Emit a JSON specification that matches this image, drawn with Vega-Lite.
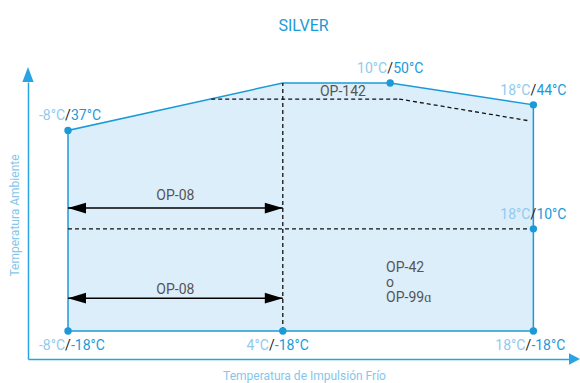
{
  "$schema": "https://vega.github.io/schema/vega-lite/v6.json",
  "width": 541,
  "height": 277,
  "autosize": {"type": "none"},
  "padding": {"left": 28, "top": 82, "right": 11, "bottom": 24},
  "background": "white",
  "title": {"text": "SILVER", "color": "#1b9ad8", "fontSize": 16, "fontWeight": "normal", "font": "Roboto", "anchor": "middle", "offset": 28, "dx": 5},
  "config": {"view": {"stroke": null}, "font": "Roboto"},
  "datasets": {
    "top": [
      {"x": -8, "y": 37}, {"x": 4, "y": 50}, {"x": 10, "y": 50}, {"x": 18, "y": 44}
    ],
    "outline": [
      {"o": 1, "x": -8, "y": -18}, {"o": 2, "x": -8, "y": 37}, {"o": 3, "x": 4, "y": 50},
      {"o": 4, "x": 10, "y": 50}, {"o": 5, "x": 18, "y": 44}, {"o": 6, "x": 18, "y": -18},
      {"o": 7, "x": -8, "y": -18}
    ],
    "dash": [
      {"x": 4, "y": -18, "x2": 4, "y2": 50},
      {"x": -8, "y": 10, "x2": 18, "y2": 10},
      {"x": 0, "y": 45.6, "x2": 10.5, "y2": 45.6},
      {"x": 10.5, "y": 45.6, "x2": 17.8, "y2": 39.6}
    ],
    "arrows": [
      {"x": -8, "x2": 4, "y": 15.7},
      {"x": -8, "x2": 4, "y": -9}
    ],
    "axarrow": [
      {"x": -10.235, "y": 50.27, "k": "up"},
      {"x": 19.99, "y": -25.68, "k": "right"}
    ],
    "pts": [
      {"x": -8, "y": 37, "a": "-8°C", "b": "37°C", "g": "t"},
      {"x": 10, "y": 50, "a": "10°C", "b": "50°C", "g": "t"},
      {"x": 18, "y": 44, "a": "18°C", "b": "44°C", "g": "t"},
      {"x": 18, "y": 10, "a": "18°C", "b": "10°C", "g": "t"},
      {"x": -8, "y": -18, "a": "-8°C", "b": "-18°C", "g": "b0"},
      {"x": 4, "y": -18, "a": "4°C", "b": "-18°C", "g": "b1"},
      {"x": 18, "y": -18, "a": "18°C", "b": "-18°C", "g": "b2"}
    ],
    "notes": [
      {"x": -2, "y": 17.9, "t": "OP-08"},
      {"x": -2, "y": -7.85, "t": "OP-08"},
      {"x": 7.36, "y": 46.4, "t": "OP-142"}
    ],
    "notes2": [
      {"x": 9.77, "y": -1.8, "t": "OP-42\no\nOP-99ɑ"}
    ]
  },
  "encoding": {
    "x": {"field": "x", "type": "quantitative",
      "scale": {"domain": [-10.235, 19.99], "nice": false, "zero": false},
      "axis": {"title": "Temperatura de Impulsión Frío", "labels": false, "ticks": false, "grid": false,
        "domainColor": "#2aa3e2", "domainWidth": 1.5, "titleColor": "#86c6ec", "titleFont": "Roboto",
        "titleFontSize": 12, "titleFontWeight": "normal", "titlePadding": 11, "titleX": 276}},
    "y": {"field": "y", "type": "quantitative",
      "scale": {"domain": [-25.68, 50.27], "nice": false, "zero": false},
      "axis": {"title": "Temperatura Ambiente", "labels": false, "ticks": false, "grid": false,
        "domainColor": "#2aa3e2", "domainWidth": 1.5, "titleColor": "#86c6ec", "titleFont": "Roboto",
        "titleFontSize": 12, "titleFontWeight": "normal", "titlePadding": 7, "titleY": 133}}
  },
  "layer": [
    {"data": {"name": "top"}, "mark": {"type": "area", "color": "#ddeefb", "opacity": 1},
     "encoding": {"y2": {"datum": -18}}},
    {"data": {"name": "outline"}, "mark": {"type": "line", "color": "#1b9ad8", "strokeWidth": 1.5},
     "encoding": {"order": {"field": "o", "type": "quantitative"}}},
    {"data": {"name": "dash"}, "mark": {"type": "rule", "color": "#111111", "strokeDash": [4, 3], "strokeWidth": 1.3},
     "encoding": {"x2": {"field": "x2"}, "y2": {"field": "y2"}}},
    {"data": {"name": "arrows"}, "mark": {"type": "rule", "color": "#000000", "strokeWidth": 1.5},
     "encoding": {"x2": {"field": "x2"}}},
    {"data": {"name": "arrows"}, "mark": {"type": "point", "shape": "M0,0L2,-0.6L2,0.6Z", "filled": true, "color": "#000000", "size": 324, "opacity": 1},
     "encoding": {}},
    {"data": {"name": "arrows"}, "mark": {"type": "point", "shape": "M0,0L-2,-0.6L-2,0.6Z", "filled": true, "color": "#000000", "size": 324, "opacity": 1},
     "encoding": {"x": {"field": "x2", "type": "quantitative"}}},
    {"data": {"name": "axarrow"}, "mark": {"type": "point", "filled": true, "color": "#2aa3e2", "size": 225, "opacity": 1},
     "encoding": {"shape": {"field": "k", "type": "nominal",
       "scale": {"domain": ["up", "right"], "range": ["M-0.75,0L0.75,0L0,-2Z", "M0,-0.77L1.47,0L0,0.77Z"]}, "legend": null}}},
    {"data": {"name": "pts"}, "mark": {"type": "point", "filled": true, "color": "#1b9ad8", "size": 55, "opacity": 1}},

    {"data": {"name": "pts"}, "transform": [{"filter": "datum.g == 't'"}],
     "mark": {"type": "text", "align": "right", "baseline": "alphabetic", "dx": -3, "dy": -10, "fontSize": 14, "color": "#8ecbef"},
     "encoding": {"text": {"field": "a"}}},
    {"data": {"name": "pts"}, "transform": [{"filter": "datum.g == 't'"}],
     "mark": {"type": "text", "align": "center", "baseline": "alphabetic", "dx": 0, "dy": -10, "fontSize": 14, "color": "#222222", "text": "/"},
     "encoding": {}},
    {"data": {"name": "pts"}, "transform": [{"filter": "datum.g == 't'"}],
     "mark": {"type": "text", "align": "left", "baseline": "alphabetic", "dx": 3, "dy": -10, "fontSize": 14, "color": "#1b9ad8"},
     "encoding": {"text": {"field": "b"}}},

    {"data": {"name": "pts"}, "transform": [{"filter": "datum.g == 'b0'"}],
     "mark": {"type": "text", "align": "right", "baseline": "alphabetic", "dx": -3, "dy": 19, "fontSize": 14, "color": "#8ecbef"},
     "encoding": {"text": {"field": "a"}}},
    {"data": {"name": "pts"}, "transform": [{"filter": "datum.g == 'b0'"}],
     "mark": {"type": "text", "align": "center", "baseline": "alphabetic", "dx": 0, "dy": 19, "fontSize": 14, "color": "#222222", "text": "/"},
     "encoding": {}},
    {"data": {"name": "pts"}, "transform": [{"filter": "datum.g == 'b0'"}],
     "mark": {"type": "text", "align": "left", "baseline": "alphabetic", "dx": 3, "dy": 19, "fontSize": 14, "color": "#1b9ad8"},
     "encoding": {"text": {"field": "b"}}},

    {"data": {"name": "pts"}, "transform": [{"filter": "datum.g == 'b1'"}],
     "mark": {"type": "text", "align": "right", "baseline": "alphabetic", "dx": -14, "dy": 19, "fontSize": 14, "color": "#8ecbef"},
     "encoding": {"text": {"field": "a"}}},
    {"data": {"name": "pts"}, "transform": [{"filter": "datum.g == 'b1'"}],
     "mark": {"type": "text", "align": "center", "baseline": "alphabetic", "dx": -11, "dy": 19, "fontSize": 14, "color": "#222222", "text": "/"},
     "encoding": {}},
    {"data": {"name": "pts"}, "transform": [{"filter": "datum.g == 'b1'"}],
     "mark": {"type": "text", "align": "left", "baseline": "alphabetic", "dx": -8, "dy": 19, "fontSize": 14, "color": "#1b9ad8"},
     "encoding": {"text": {"field": "b"}}},

    {"data": {"name": "pts"}, "transform": [{"filter": "datum.g == 'b2'"}],
     "mark": {"type": "text", "align": "right", "baseline": "alphabetic", "dx": -8, "dy": 19, "fontSize": 14, "color": "#8ecbef"},
     "encoding": {"text": {"field": "a"}}},
    {"data": {"name": "pts"}, "transform": [{"filter": "datum.g == 'b2'"}],
     "mark": {"type": "text", "align": "center", "baseline": "alphabetic", "dx": -5, "dy": 19, "fontSize": 14, "color": "#222222", "text": "/"},
     "encoding": {}},
    {"data": {"name": "pts"}, "transform": [{"filter": "datum.g == 'b2'"}],
     "mark": {"type": "text", "align": "left", "baseline": "alphabetic", "dx": -2, "dy": 19, "fontSize": 14, "color": "#1b9ad8"},
     "encoding": {"text": {"field": "b"}}},

    {"data": {"name": "notes"},
     "mark": {"type": "text", "align": "center", "baseline": "alphabetic", "fontSize": 14, "color": "#555555"},
     "encoding": {"text": {"field": "t"}}},
    {"data": {"name": "notes2"},
     "mark": {"type": "text", "align": "left", "baseline": "alphabetic", "fontSize": 14, "color": "#555555", "lineBreak": "\n", "lineHeight": 15},
     "encoding": {"text": {"field": "t"}}}
  ]
}
